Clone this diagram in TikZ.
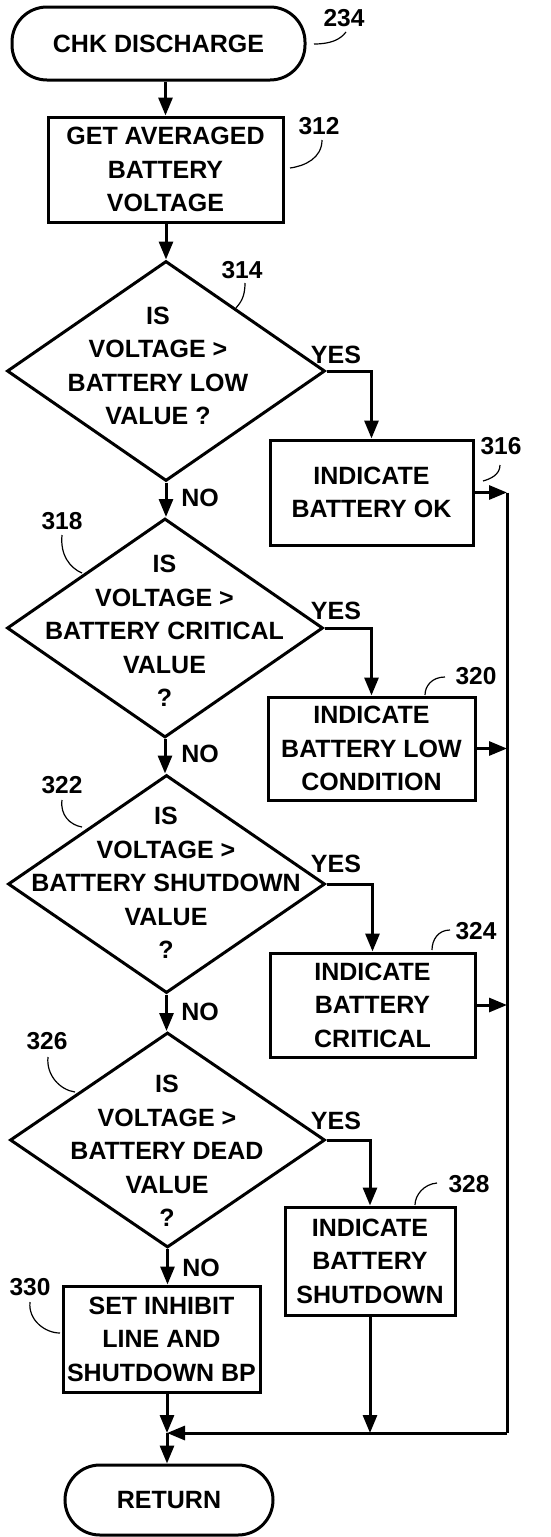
\documentclass[tikz,border=0pt]{standalone}
\usepackage{fontspec}
\setmainfont{Liberation Sans}
\usetikzlibrary{shapes.geometric,arrows.meta}
\begin{document}
\begin{tikzpicture}[x=1pt,y=-1pt,
  every node/.style={font=\fontsize{25}{33.5}\selectfont\bfseries},
  arr/.style={line width=3pt,-{Triangle[length=18pt,width=14pt]}},
  line/.style={line width=3pt},
  term/.style={draw,line width=3pt,rounded corners=35pt,inner sep=0pt},
  proc/.style={draw,line width=3pt,inner sep=0pt,align=center},
  dia/.style={draw,diamond,line width=3pt,inner sep=0pt},
  dtext/.style={align=center,inner sep=0pt},
  lbl/.style={font=\fontsize{24.5}{24.5}\selectfont\bfseries,inner sep=0pt},
  yn/.style={inner sep=0pt},
  lead/.style={line width=1.2pt}
]
\useasboundingbox (0,0) rectangle (551,1537);

% terminals
\node[term,minimum width=293pt,minimum height=73pt] (start) at (158.5,43.5) {CHK DISCHARGE};
\node[term,minimum width=208pt,minimum height=70pt] (ret) at (169,1500) {RETURN};

% process boxes
\node[proc,minimum width=235pt,minimum height=105pt] (b312) at (165.5,169.5) {GET AVERAGED\\BATTERY\\VOLTAGE};
\node[proc,minimum width=203pt,minimum height=105pt] (b316) at (371.5,492.5) {INDICATE\\BATTERY OK};
\node[proc,minimum width=207pt,minimum height=103pt] (b320) at (371.5,748.5) {INDICATE\\BATTERY LOW\\CONDITION};
\node[proc,minimum width=205pt,minimum height=104pt] (b324) at (372.5,1005) {INDICATE\\BATTERY\\CRITICAL};
\node[proc,minimum width=170pt,minimum height=108pt] (b328) at (370,1261) {INDICATE\\BATTERY\\SHUTDOWN};
\node[proc,minimum width=197pt,minimum height=106pt] (b330) at (161.5,1339) {SET INHIBIT\\LINE AND\\SHUTDOWN BP};

% decisions
\node[dia,minimum width=318pt,minimum height=220pt] (d314) at (166,371) {};
\node[dia,minimum width=316pt,minimum height=219pt] (d318) at (165,628) {};
\node[dia,minimum width=317pt,minimum height=218pt] (d322) at (166.5,884) {};
\node[dia,minimum width=315pt,minimum height=215pt] (d326) at (167.5,1140) {};
\node[dtext] (t314) at (158,366) {IS\\VOLTAGE >\\BATTERY LOW\\VALUE ?};
\node[dtext] (t318) at (164.5,631) {IS\\VOLTAGE >\\BATTERY CRITICAL\\VALUE\\?};
\node[dtext] (t322) at (166,883) {IS\\VOLTAGE >\\BATTERY SHUTDOWN\\VALUE\\?};
\node[dtext] (t326) at (167,1151) {IS\\VOLTAGE >\\BATTERY DEAD\\VALUE\\?};

% yes / no labels
\node[yn] (y314) at (336,355) {YES};
\node[yn] (y318) at (336,611) {YES};
\node[yn] (y322) at (336,864) {YES};
\node[yn] (y326) at (336,1121) {YES};
\node[yn] (n314) at (200,498) {NO};
\node[yn] (n318) at (200,754) {NO};
\node[yn] (n322) at (200,1012) {NO};
\node[yn] (n326) at (201,1268) {NO};

% reference numbers
\node[lbl] (l234) at (344,18) {234};
\node[lbl] (l312) at (319,126) {312};
\node[lbl] (l314) at (242,270) {314};
\node[lbl] (l316) at (501,446) {316};
\node[lbl] (l318) at (62,521) {318};
\node[lbl] (l320) at (476,676) {320};
\node[lbl] (l322) at (62,785) {322};
\node[lbl] (l324) at (476,931) {324};
\node[lbl] (l326) at (47,1041) {326};
\node[lbl] (l328) at (469,1184) {328};
\node[lbl] (l330) at (30,1287) {330};

% leader lines
\draw[lead] (314,44) .. controls (330,44) and (340,40) .. (346,32);
\draw[lead] (322,140) .. controls (322,158) and (305,166) .. (290,168);
\draw[lead] (245,283) .. controls (245,298) and (240,303) .. (236,308);
\draw[lead] (500,465) .. controls (500,475) and (490,479) .. (483,481);
\draw[lead] (62,535) .. controls (60,555) and (70,568) .. (82,573);
\draw[lead] (445,677) .. controls (432,677) and (425,686) .. (425,695);
\draw[lead] (62,800) .. controls (60,815) and (70,825) .. (82,827);
\draw[lead] (450,930) .. controls (438,930) and (432,940) .. (432,950);
\draw[lead] (48,1057) .. controls (46,1075) and (60,1090) .. (75,1092);
\draw[lead] (437,1183) .. controls (424,1184) and (415,1195) .. (415,1205);
\draw[lead] (30,1302) .. controls (28,1320) and (45,1333) .. (60,1333);

% bus coordinates
\coordinate (busTop) at (507,492.5);
\coordinate (busBot) at (507,1433);
\coordinate (merge) at (167,1433);

% main flow
\draw[arr] (b312.north |- start.south) -- (b312.north);
\draw[arr] (b312.south -| d314.north) -- (d314.north);
\draw[arr] (d314.south) -- (d314.south |- d318.north);
\draw[arr] (d318.south) -- (d318.south |- d322.north);
\draw[arr] (d322.south) -- (d322.south |- d326.north);
\draw[arr] (d326.south) -- (d326.south |- b330.north);

% yes branches
\draw[arr] (d314.east) -| (b316.north);
\draw[arr] (d318.east) -| (b320.north);
\draw[arr] (d322.east) -| (b324.north);
\draw[arr] (d326.east) -| (b328.north);

% to bus
\draw[arr] (b316.east) -- (b316.east -| busTop);
\draw[arr] (b320.east) -- (b320.east -| busTop);
\draw[arr] (b324.east) -- (b324.east -| busTop);
\draw[line] (busTop) -- (busBot);
\draw[arr] (busBot) -- (merge);
\draw[arr] (b328.south) -- (b328.south |- busBot);
\draw[arr] (merge |- b330.south) -- (merge);
\draw[arr] (merge) -- (merge |- ret.north);

\end{tikzpicture}
\end{document}
